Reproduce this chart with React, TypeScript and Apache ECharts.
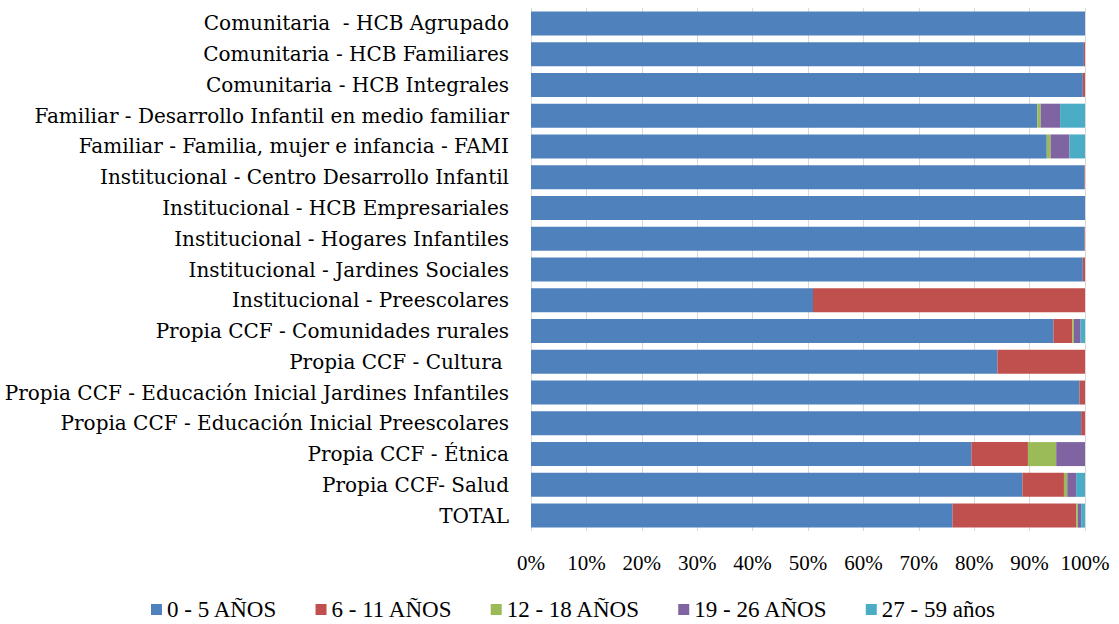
import React, { useEffect, useRef } from "react";
import * as echarts from "echarts";

const categories = [
  "Comunitaria  - HCB Agrupado",
  "Comunitaria - HCB Familiares",
  "Comunitaria - HCB Integrales",
  "Familiar - Desarrollo Infantil en medio familiar",
  "Familiar - Familia, mujer e infancia - FAMI",
  "Institucional - Centro Desarrollo Infantil",
  "Institucional - HCB Empresariales",
  "Institucional - Hogares Infantiles",
  "Institucional - Jardines Sociales",
  "Institucional - Preescolares",
  "Propia CCF - Comunidades rurales",
  "Propia CCF - Cultura ",
  "Propia CCF - Educación Inicial Jardines Infantiles",
  "Propia CCF - Educación Inicial Preescolares",
  "Propia CCF - Étnica",
  "Propia CCF- Salud",
  "TOTAL",
];

const seriesNames = ["0 - 5 AÑOS", "6 - 11 AÑOS", "12 - 18 AÑOS", "19 - 26 AÑOS", "27 - 59 años"];

const age0to5 = [100, 99.8, 99.6, 91.4, 93.1, 99.9, 100, 99.9, 99.6, 50.9, 94.3, 84.2, 99.0, 99.3, 79.5, 88.7, 76.1];
const age6to11 = [0, 0.2, 0.4, 0, 0, 0.1, 0, 0.1, 0.4, 49.1, 3.4, 15.8, 1.0, 0.7, 10.2, 7.5, 22.3];
const age12to18 = [0, 0, 0, 0.6, 0.7, 0, 0, 0, 0, 0, 0.3, 0, 0, 0, 5.1, 0.6, 0.3];
const age19to26 = [0, 0, 0, 3.5, 3.4, 0, 0, 0, 0, 0, 1.2, 0, 0, 0, 5.2, 1.6, 0.6];
const age27to59 = [0, 0, 0, 4.5, 2.8, 0, 0, 0, 0, 0, 0.8, 0, 0, 0, 0, 1.6, 0.7];

const xTicks = [0, 10, 20, 30, 40, 50, 60, 70, 80, 90, 100];

const colors = ["#4F81BD", "#C0504D", "#9BBB59", "#8064A2", "#4BACC6"];

export default function App() {
  const ref = useRef<HTMLDivElement>(null);
  useEffect(() => {
    if (!ref.current) return;
    const chart = echarts.init(ref.current, undefined, { renderer: "svg" });
    const values = [age0to5, age6to11, age12to18, age19to26, age27to59];
    const font = "DejaVu Serif";
    const narrow = "Liberation Serif";
    chart.setOption({
      animation: false,
      color: colors,
      grid: { left: 531, right: 34, top: 8, bottom: 93, containLabel: false },
      xAxis: {
        type: "value",
        min: 0,
        max: 100,
        interval: 10,
        axisLine: { show: false },
        axisTick: { show: false },
        splitLine: { show: true, lineStyle: { color: "#D9D9D9", width: 1 } },
        axisLabel: {
          formatter: (v: number) => (xTicks.includes(v) ? v + "%" : ""),
          fontFamily: narrow,
          fontSize: 21,
          color: "#000",
          margin: 21,
        },
      },
      yAxis: {
        type: "category",
        data: categories,
        inverse: true,
        axisLine: { show: false },
        axisTick: { show: false },
        axisLabel: { fontFamily: font, fontSize: 20, color: "#000", margin: 22 },
      },
      legend: {
        bottom: -2,
        left: 146,
        itemWidth: 11,
        itemHeight: 11,
        itemGap: 38,
        icon: "rect",
        textStyle: { fontFamily: narrow, fontSize: 23, color: "#000" },
        data: seriesNames,
      },
      series: seriesNames.map((name, i) => ({
        name,
        type: "bar",
        stack: "total",
        barCategoryGap: "22%",
        data: values[i],
        itemStyle: { color: colors[i] },
      })),
    });
    return () => chart.dispose();
  }, []);
  return <div ref={ref} style={{ width: 1119, height: 624, position: "absolute", left: 0, top: 0 }} />;
}
